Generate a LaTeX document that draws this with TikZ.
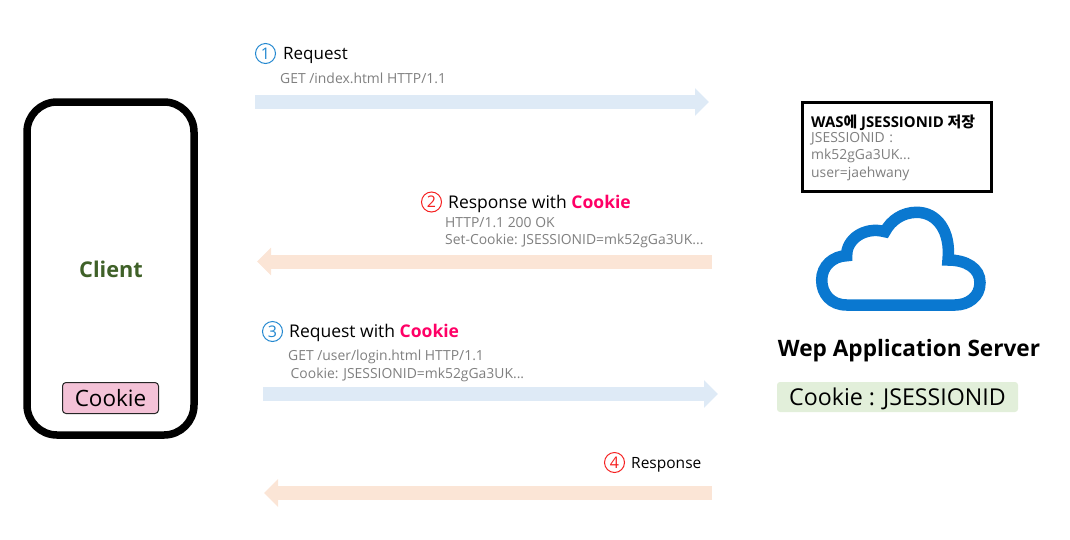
\documentclass[tikz,border=0pt]{standalone}
\usepackage{fontspec}
\setmainfont{Open Sans}
\newfontfamily\korfont{Noto Sans CJK KR}
\usetikzlibrary{arrows.meta}
\definecolor{reqblue}{HTML}{DEEAF6}
\definecolor{respred}{HTML}{FBE5D6}
\definecolor{cloudblue}{HTML}{0A78D0}
\definecolor{numblue}{HTML}{2488D0}
\definecolor{numred}{HTML}{F52020}
\definecolor{cookiered}{HTML}{FF0066}
\definecolor{clientgreen}{HTML}{3F6128}
\definecolor{infogray}{HTML}{7F7F7F}
\definecolor{cookiepink}{HTML}{F4C2D7}
\definecolor{cookiegreen}{HTML}{E2EFDA}
\begin{document}
\begin{tikzpicture}[
    x=1pt,
    y=-1pt,
    >=stealth,
    reqarr/.style={-{Triangle[length=14pt,width=27pt]}, line width=14pt, draw=reqblue},
    resparr/.style={-{Triangle[length=14pt,width=27pt]}, line width=14pt, draw=respred},
    numcirc/.style={
        circle,
        draw=#1,
        text=#1,
        line width=1pt,
        minimum size=20pt,
        inner sep=0pt,
        font=\fontsize{16}{16}\selectfont
    },
    msg/.style={anchor=west, inner sep=0pt, font=\fontsize{17.5}{17.5}\selectfont},
    info/.style={anchor=west, inner sep=0pt, text=infogray, font=\fontsize{13.9}{17.5}\selectfont, align=left}
]
    \useasboundingbox (0,0) rectangle (1070,539);

    % client
    \node[draw, line width=7.5pt, rounded corners=30pt, minimum width=167pt, minimum height=333pt] (client) at (110.5,268.5) {};
    \node[text=clientgreen, font=\fontsize{21.7}{21.7}\selectfont\bfseries] (clientlabel) at (111,269) {Client};
    \node[draw=black!85, line width=1pt, fill=cookiepink, rounded corners=3.5pt, minimum width=96pt, minimum height=31pt, inner sep=0pt, font=\fontsize{22.5}{22.5}\selectfont] (clientcookie) at (110.5,398) {Cookie};

    % server
    \node[draw, line width=3pt, minimum width=189pt, minimum height=89pt] (wasbox) at (897,147) {};
    \node[anchor=west, inner sep=0pt, font=\fontsize{14.9}{14.9}\selectfont\bfseries] (wastitle) at (811,122.5) {WAS{\korfont 에} JSESSIONID {\korfont 저장}};
    \node[info, text width=170pt] (wasinfo) at (811,156.5) {JSESSIONID :\\mk52gGa3UK...\\user=jaehwany};
    \draw[cloudblue, line width=11.5pt, line join=miter]
        (948,260)
        .. controls (966,260) and (980,268) .. (980,282.7)
        .. controls (980,297) and (968,305) .. (955,305)
        -- (846.7,305)
        .. controls (831,305) and (821.7,294) .. (821.7,280)
        .. controls (821.7,266) and (833,256) .. (846.7,255.7)
        .. controls (846,240) and (864,226) .. (885,231.7)
        .. controls (891,220) and (903,212.3) .. (916.7,212.3)
        .. controls (937,212.3) and (951,231) .. (948,260)
        -- cycle;
    \node[font=\fontsize{22.6}{22.6}\selectfont\bfseries] (wepserver) at (909,350.5) {Wep Application Server};
    \node[fill=cookiegreen, rounded corners=3pt, minimum width=241pt, minimum height=30pt, inner sep=0pt, text height=18pt, text depth=2pt, font=\fontsize{23.2}{23.2}\selectfont] (servercookie) at (897.5,397) {Cookie : JSESSIONID};

    % request 1
    \node[numcirc=numblue] (num1) at (265.5,53.5) {1};
    \node[msg, font=\fontsize{17}{17}\selectfont] (msg1) at (283,55.5) {Request};
    \node[info] (info1) at (280,78.5) {GET /index.html HTTP/1.1};
    \coordinate (a1) at (255,102);
    \coordinate (b1) at (709,102);
    \draw[reqarr] (a1) -- (b1);

    % response 2
    \node[numcirc=numred] (num2) at (431.5,202) {2};
    \node[msg] (msg2) at (448,203.5) {Response with \textcolor{cookiered}{\bfseries Cookie}};
    \node[info] (info2) at (445,232.5) {HTTP/1.1 200 OK\\Set-Cookie: JSESSIONID=mk52gGa3UK...};
    \coordinate (a2) at (712,261.5);
    \coordinate (b2) at (257,261.5);
    \draw[resparr] (a2) -- (b2);

    % request 3
    \node[numcirc=numblue] (num3) at (272.5,331.5) {3};
    \node[msg] (msg3) at (289,333) {Request with \textcolor{cookiered}{\bfseries Cookie}};
    \node[info] (info3a) at (288,357) {GET /user/login.html HTTP/1.1};
    \node[info] (info3b) at (290.5,375) {Cookie: JSESSIONID=mk52gGa3UK...};
    \coordinate (a3) at (263,394);
    \coordinate (b3) at (718,394);
    \draw[reqarr] (a3) -- (b3);

    % response 4
    \node[numcirc=numred] (num4) at (614.5,462.5) {4};
    \node[msg, font=\fontsize{15.5}{15.5}\selectfont] (msg4) at (631,465) {Response};
    \coordinate (a4) at (712,493);
    \coordinate (b4) at (264,493);
    \draw[resparr] (a4) -- (b4);
\end{tikzpicture}
\end{document}
